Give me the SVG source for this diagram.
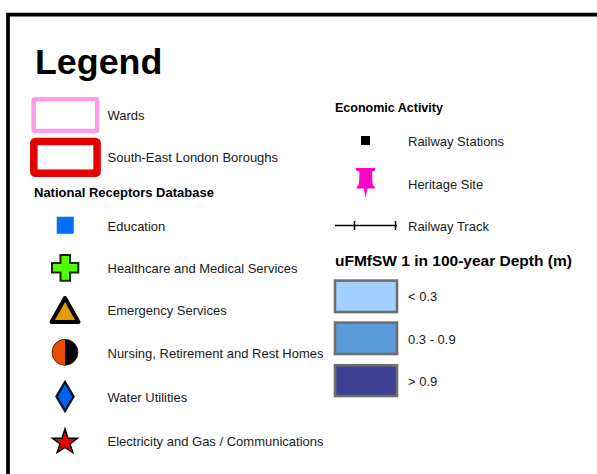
<svg xmlns="http://www.w3.org/2000/svg" width="597" height="474" viewBox="0 0 597 474">
<style>
text{font-family:"Liberation Sans",Arial,sans-serif;fill:#1a1a1a}
.l{font-size:13px}
.h{font-size:13px;font-weight:bold;fill:#000}
.s{stroke:#6e6e6e;stroke-width:2.6}
</style>
<rect width="597" height="474" fill="#fff"/>
<path d="M8 474V14.700H597" fill="none" stroke="#000" stroke-width="3.800"/>
<text x="35" y="74" style="font-size:35.800px;font-weight:bold;fill:#000">Legend</text>
<g id="wards"><rect x="33.600" y="99.300" width="63.600" height="31.700" rx="1.500" fill="#fff" stroke="#ff9ce8" stroke-width="4.500"/><text class="l" x="107.500" y="120">Wards</text></g>
<g id="boroughs"><rect x="33.800" y="141.500" width="63.300" height="31.700" rx="1.500" fill="#fff" stroke="#e60000" stroke-width="7.500"/><text class="l" x="107.500" y="162">South-East London Boroughs</text></g>
<text class="h" x="34" y="197">National Receptors Database</text>
<g id="education"><rect x="57" y="217" width="16.500" height="16.500" fill="#0070ff" stroke="#3a6ea5" stroke-width=".6"/><text class="l" x="107.500" y="231">Education</text></g>
<g id="healthcare"><path d="M60.500 255H70V263H78.300V272.500H70V280.700H60.500V272.500H52V263H60.500Z" fill="#55ff00" stroke="#102a05" stroke-width="2"/><text class="l" x="107.500" y="273">Healthcare and Medical Services</text></g>
<g id="emergency"><path d="M65 298L51.500 322H78.500Z" fill="#e69800" stroke="#000" stroke-width="4" stroke-linejoin="round"/><text class="l" x="107.500" y="315">Emergency Services</text></g>
<g id="nursing"><circle cx="65" cy="352.300" r="13" fill="#000" stroke="#5a2a10" stroke-width=".8"/><path d="M65 339.800A12.500 12.500 0 0 0 65 364.800Z" fill="#e64d00"/><text class="l" x="107.500" y="358">Nursing, Retirement and Rest Homes</text></g>
<g id="water"><path d="M65 382L56.500 396.500L65 411L73.500 396.500Z" fill="#0060f0" stroke="#04122e" stroke-width="2.400"/><text class="l" x="107.500" y="402">Water Utilities</text></g>
<g id="electricity"><path d="M65 429L68 438.300H77.500L70 444L72.800 452.500L65 447.300L57.200 452.500L60 444L52.500 438.300H62Z" fill="#e60000" stroke="#000" stroke-width="1.500"/><text class="l" x="107.500" y="446">Electricity and Gas / Communications</text></g>
<text class="h" x="335" y="112" style="font-size:12.500px">Economic Activity</text>
<g id="stations"><rect x="361" y="136" width="9" height="9" fill="#000"/><text class="l" x="408" y="146">Railway Stations</text></g>
<g id="heritage"><path d="M356 168H375V170.500L372 171.500L372.500 184L375 187.500V188.500H367.500L365.500 198L364 188.500H356.500V187.500L359 184L359.500 171.500L356 170.500Z" fill="#ff00c5"/><text class="l" x="408" y="189">Heritage Site</text></g>
<g id="track"><path d="M335 225.500H397M354.500 221V230M395.500 221V230" fill="none" stroke="#000" stroke-width="1.500"/><text class="l" x="408" y="231">Railway Track</text></g>
<text class="h" x="335" y="266" style="font-size:15.500px">uFMfSW 1 in 100-year Depth (m)</text>
<g id="d1"><rect class="s" x="335" y="280.600" width="62" height="31.400" fill="#a3d0ff"/><text class="l" x="408" y="301">&lt; 0.3</text></g>
<g id="d2"><rect class="s" x="335" y="322.600" width="62" height="31.400" fill="#5b9bd9"/><text class="l" x="408" y="344">0.3 - 0.9</text></g>
<g id="d3"><rect class="s" x="335" y="365.300" width="62" height="30.700" fill="#3d3f93"/><text class="l" x="408" y="386">&gt; 0.9</text></g>
</svg>
